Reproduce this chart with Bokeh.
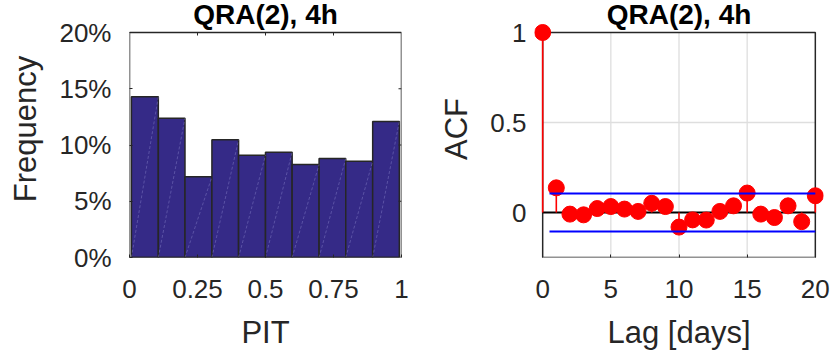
from bokeh.plotting import figure
from bokeh.layouts import row
from bokeh.models import Range1d, FixedTicker, NumeralTickFormatter
from bokeh.core.properties import value
from bokeh.embed import file_html
from bokeh.resources import INLINE

FONT = "Liberation Sans"
AXIS_COLOR = "#262626"
BAR_COLOR = "#352A87"

# ---------------- data ----------------
title_text = "QRA(2), 4h"

# PIT histogram (10 bins)
pit_edges = [0.007, 0.106, 0.204, 0.303, 0.401, 0.500, 0.598, 0.697, 0.795, 0.894, 0.992]
pit_freq = [0.1428, 0.1238, 0.0717, 0.1046, 0.0910, 0.0936, 0.0827, 0.0880, 0.0856, 0.1209]
pit_xlim = [0, 1]
pit_ylim = [0, 0.20]
pit_ticks = [0, 0.25, 0.5, 0.75, 1]
freq_ticks = [0, 0.05, 0.10, 0.15, 0.20]

# ACF of PIT
lags = [0, 1, 2, 3, 4, 5, 6, 7, 8, 9, 10, 11, 12, 13, 14, 15, 16, 17, 18, 19, 20]
acf = [1.0, 0.137, -0.009, -0.013, 0.022, 0.033, 0.019, 0.006, 0.051, 0.033,
       -0.081, -0.041, -0.042, 0.006, 0.037, 0.108, -0.009, -0.028, 0.037, -0.051, 0.093]
conf_bound = 0.1055
conf_x = [0.5, 20]
acf_xlim = [0, 20]
acf_ylim = [-0.25, 1]
lag_ticks = [0, 5, 10, 15, 20]
acf_ticks = [0, 0.5, 1]
grid_x = [5, 10, 15]
grid_y = [0.5]

# ---------------- layout constants (pixels) ----------------
FIG_H = 362
BOTTOM = 105         # space under the axes box
BOX_H = 225          # axes box height
TOP_GAP = FIG_H - BOTTOM - BOX_H   # space above the box (title area)
TITLE_BASE = 14      # title anchor from figure top
TICK_LEN = 3
TICK_FONT = "26px"
LABEL_FONT = "31px"
TITLE_FONT = "28px"


def style_axis(ax, ticks, fmt, label, standoff, label_standoff, tick_in=3):
    ax.ticker = FixedTicker(ticks=ticks)
    ax.formatter = fmt
    ax.axis_label = label
    ax.axis_label_text_font = FONT
    ax.axis_label_text_font_size = LABEL_FONT
    ax.axis_label_text_font_style = "normal"
    ax.axis_label_text_color = AXIS_COLOR
    ax.axis_label_standoff = label_standoff
    ax.major_label_text_font = FONT
    ax.major_label_text_font_size = TICK_FONT
    ax.major_label_text_color = AXIS_COLOR
    ax.major_label_standoff = standoff
    ax.major_tick_in = tick_in
    ax.major_tick_out = 0
    ax.major_tick_line_color = AXIS_COLOR if tick_in else None
    ax.major_tick_line_width = 1
    ax.minor_tick_line_color = None
    ax.axis_line_color = None


def add_title(p, x, y):
    p.text(x=[x], y=[y], text=[title_text], text_font=value(FONT), text_font_style="bold",
           text_font_size=TITLE_FONT, text_color="black", text_align="center",
           text_baseline="alphabetic")


# ---------------- left: PIT histogram ----------------
w1, l1, r1 = 420, 129, 19
upp1 = (pit_ylim[1] - pit_ylim[0]) / BOX_H          # data units per pixel (y)
upx1 = (pit_xlim[1] - pit_xlim[0]) / (w1 - l1 - r1)  # data units per pixel (x)
p1 = figure(width=w1, height=FIG_H,
            x_range=Range1d(*pit_xlim),
            y_range=Range1d(pit_ylim[0], pit_ylim[1] + TOP_GAP * upp1),
            output_backend="svg", toolbar_location=None,
            min_border_left=l1, min_border_right=r1, min_border_top=0, min_border_bottom=BOTTOM,
            background_fill_color="white", border_fill_color="white")
p1.grid.visible = False
p1.outline_line_color = None

p1.quad(left=pit_edges[:-1], right=pit_edges[1:], bottom=0, top=pit_freq,
        fill_color=BAR_COLOR, line_color=AXIS_COLOR, line_width=1.5)
p1.segment(x0=pit_edges[:-1], y0=0, x1=pit_edges[1:], y1=pit_freq,
           line_color="#8c88cc", line_alpha=0.55, line_width=0.8, line_dash="3 2")
# axes box
p1.quad(left=[pit_xlim[0]], right=[pit_xlim[1]], bottom=[pit_ylim[0]], top=[pit_ylim[1]],
        fill_color=None, line_color=AXIS_COLOR, line_width=1.5)
# mirrored inside ticks (top and right edges)
p1.segment(x0=pit_ticks[1:-1], y0=pit_ylim[1], x1=pit_ticks[1:-1], y1=pit_ylim[1] - TICK_LEN * upp1,
           line_color=AXIS_COLOR, line_width=1)
p1.segment(x0=pit_xlim[1], y0=freq_ticks[1:-1], x1=pit_xlim[1] - TICK_LEN * upx1, y1=freq_ticks[1:-1],
           line_color=AXIS_COLOR, line_width=1)

style_axis(p1.xaxis[0], pit_ticks, NumeralTickFormatter(format="0.[00]"), "PIT", 22, 14)
style_axis(p1.yaxis[0], freq_ticks, NumeralTickFormatter(format="0%"), "Frequency", 18, 13)

add_title(p1, (pit_xlim[0] + pit_xlim[1]) / 2, pit_ylim[1] + (TOP_GAP - TITLE_BASE) * upp1)

# ---------------- right: ACF stem plot ----------------
w2, l2, r2 = 419, 114, 16
pad_x = 0.6
upp2 = (acf_ylim[1] - acf_ylim[0]) / BOX_H
p2 = figure(width=w2, height=FIG_H,
            x_range=Range1d(acf_xlim[0] - pad_x, acf_xlim[1] + pad_x),
            y_range=Range1d(acf_ylim[0], acf_ylim[1] + TOP_GAP * upp2),
            output_backend="svg", toolbar_location=None,
            min_border_left=l2, min_border_right=r2, min_border_top=0, min_border_bottom=BOTTOM,
            background_fill_color="white", border_fill_color="white")
p2.grid.visible = False
p2.outline_line_color = None

# grid
p2.segment(x0=grid_x, y0=acf_ylim[0], x1=grid_x, y1=acf_ylim[1],
           line_color="#dedede", line_width=1.3)
p2.segment(x0=acf_xlim[0], y0=grid_y, x1=acf_xlim[1], y1=grid_y,
           line_color="#dedede", line_width=1.3)
# axes box
p2.quad(left=[acf_xlim[0]], right=[acf_xlim[1]], bottom=[acf_ylim[0]], top=[acf_ylim[1]],
        fill_color=None, line_color=AXIS_COLOR, line_width=1.5)
# zero line
p2.segment(x0=[acf_xlim[0]], y0=[0], x1=[acf_xlim[1]], y1=[0], line_color="black", line_width=2)
# stems + markers
p2.segment(x0=lags, y0=0, x1=lags, y1=acf, line_color="red", line_width=1.6)
p2.scatter(x=lags, y=acf, size=16, fill_color="red", line_color="red")
# confidence bounds
p2.segment(x0=conf_x[0], y0=[conf_bound, -conf_bound], x1=conf_x[1],
           y1=[conf_bound, -conf_bound], line_color="blue", line_width=2)

style_axis(p2.xaxis[0], lag_ticks, NumeralTickFormatter(format="0"), "Lag [days]", 22, 14)
style_axis(p2.yaxis[0], acf_ticks, NumeralTickFormatter(format="0.[0]"), "ACF", 8, 13, tick_in=0)

add_title(p2, (acf_xlim[0] + acf_xlim[1]) / 2, acf_ylim[1] + (TOP_GAP - TITLE_BASE) * upp2)

layout = row(p1, p2)
open("out.html", "w").write(file_html(layout, INLINE))
